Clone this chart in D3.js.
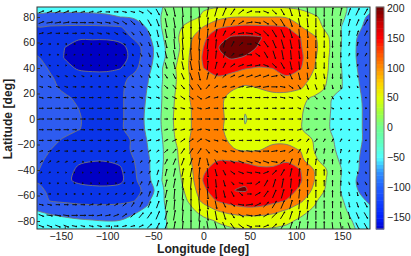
<!DOCTYPE html>
<html>
<head>
<meta charset="utf-8">
<script src="https://cdn.jsdelivr.net/npm/d3@7"></script>
<style>
html, body { margin: 0; padding: 0; background: #fff; }
svg { display: block; }
text { font-family: "Liberation Sans", sans-serif; fill: #222; }
</style>
</head>
<body>
<script>
// temperature grid
var gridLons = [-180,-165,-150,-135,-120,-105,-90,-75,-60,-45,-30,-15,0,15,30,45,60,75,90,105,120,135,150,165,180];
var gridLats = [88,80,72,64,56,48,40,32,24,16,8,0,-8,-16,-24,-32,-40,-48,-56,-64,-72,-80,-88];
var temperature = [
  [-45,-45,-45,-45,-45,-45,-45,-42,-35,-22,-5,10,17,18,18,18,18,18,16,12,5,-5,-15,-30,-45],
  [-70,-72,-72,-72,-70,-66,-60,-55,-48,-18,0,12,24,45,58,60,60,60,56,40,24,8,-15,-40,-68],
  [-102,-104,-105,-106,-106,-105,-102,-85,-55,-19,12,30,62,95,104,110,108,106,101,63,35,10,-22,-45,-80],
  [-110,-112,-118,-122,-122,-122,-120,-95,-68,-24,12,50,92,122,155,158,154,132,125,100,65,22,-22,-58,-85],
  [-112,-118,-125,-134,-135,-135,-130,-118,-80,-28,5,58,100,148,166,166,146,140,125,103,70,25,-24,-60,-88],
  [-97,-112,-126,-135,-137,-137,-133,-118,-78,-30,12,62,105,135,155,146,130,125,125,108,65,22,-26,-60,-85],
  [-92,-103,-118,-128,-130,-130,-126,-110,-72,-22,20,63,100,118,115,103,97,101,115,102,60,20,-22,-58,-82],
  [-85,-98,-108,-114,-116,-116,-112,-90,-62,-22,18,60,90,95,85,72,75,85,95,78,50,17,-20,-56,-78],
  [-82,-95,-104,-108,-110,-110,-106,-85,-58,-20,20,60,80,75,63,55,60,66,66,62,40,12,-20,-54,-75],
  [-76,-85,-96,-104,-108,-110,-105,-85,-55,-20,24,60,76,68,52,36,45,50,50,30,12,-16,-32,-52,-72],
  [-72,-80,-90,-100,-108,-110,-105,-85,-52,-19,26,58,75,68,50,22,38,45,40,24,6,-17,-34,-52,-70],
  [-70,-78,-88,-98,-108,-110,-105,-85,-50,-18,28,58,75,68,52,18,35,42,36,22,5,-18,-35,-52,-70],
  [-72,-80,-90,-99,-108,-110,-105,-85,-52,-19,26,58,75,68,50,22,38,45,40,22,5,-18,-35,-52,-70],
  [-78,-92,-103,-112,-116,-118,-112,-95,-56,-22,22,60,76,70,55,38,45,52,52,40,16,-14,-30,-50,-72],
  [-86,-100,-110,-116,-120,-120,-115,-94,-60,-24,14,60,82,76,63,55,58,68,68,58,18,-12,-28,-52,-76],
  [-96,-104,-115,-122,-124,-124,-120,-100,-65,-24,12,56,92,98,97,92,78,85,96,70,28,-4,-26,-54,-80],
  [-99,-106,-118,-128,-130,-130,-128,-105,-66,-22,8,50,95,115,122,118,112,108,112,100,58,15,-22,-55,-80],
  [-102,-110,-120,-130,-134,-134,-130,-108,-70,-20,5,42,103,130,145,145,135,125,125,104,60,12,-24,-60,-88],
  [-95,-104,-110,-115,-117,-118,-116,-112,-88,-24,3,32,92,122,149,153,130,118,116,92,50,8,-24,-56,-84],
  [-84,-102,-106,-108,-108,-108,-107,-102,-66,-24,0,24,72,103,118,125,122,112,98,68,26,-2,-18,-42,-68],
  [-60,-68,-76,-84,-88,-88,-85,-66,-52,-26,-4,12,32,60,75,85,85,72,55,30,14,-5,-16,-28,-48],
  [-40,-46,-50,-54,-57,-60,-58,-48,-38,-26,-8,6,12,22,30,33,33,32,26,14,5,-8,-10,-24,-32],
  [-30,-32,-34,-36,-38,-40,-38,-34,-30,-26,-12,0,6,10,14,16,16,14,10,6,0,-6,-12,-20,-26]
];
var levels = [-125,-100,-60,-20,20,60,100,150];
var bandColors = ["#0000c4","#0a35e8","#2e5cf0","#50ffff","#80ff80","#e0ff00","#ff8000","#ff0000","#700000"];

// wind arrows, one row per latitude from north to south
var windLons = d3.range(-175.5, 176, 9);
var windLats = d3.range(84, -85, -8.4);
var windU = [
  [6,6,6,6,6,5,5,5,5,5,5,5,5,5,4,3,2,1,0,1,2,3,4,5,6,6,6,6,5,4,3,2,1,0,0,1,2,3,4,4],
  [6,7,7,7,7,7,6,6,6,6,5,5,4,4,3,2,2,1,0,1,1,2,3,4,6,7,7,6,6,5,3,2,1,0,0,0,1,2,3,4],
  [5,5,5,5,5,5,5,5,4,4,4,3,3,3,2,2,1,1,0,1,1,2,3,5,7,8,7,6,5,4,3,1,1,0,0,0,0,1,2,3],
  [3,3,2,2,2,2,2,2,2,2,2,2,2,2,2,2,1,1,0,1,1,1,2,3,4,5,6,5,4,3,2,1,0,0,0,0,0,1,1,2],
  [2,2,2,1,1,1,1,1,1,1,1,1,2,2,2,2,2,1,1,0,1,1,2,3,5,6,5,4,3,2,1,1,0,0,0,0,0,1,1,2],
  [2,2,1,1,1,1,1,1,1,1,1,1,2,2,2,2,2,2,2,1,1,2,3,5,6,6,6,6,5,4,2,1,1,0,0,0,0,1,1,1],
  [3,3,3,3,3,3,2,2,2,2,2,2,2,2,3,3,3,3,3,2,2,3,4,5,6,7,7,7,7,5,3,2,1,1,1,0,0,1,1,1],
  [4,4,4,4,4,4,3,3,3,3,3,3,3,3,3,4,4,4,4,4,4,4,5,5,6,7,7,7,7,6,5,3,2,2,1,1,1,1,1,1],
  [5,5,5,5,5,5,5,4,4,4,4,4,4,4,4,4,5,5,5,5,5,5,5,5,5,6,6,6,6,6,5,4,3,3,2,2,2,1,1,1],
  [5,6,6,6,6,5,5,5,5,5,5,5,5,4,4,4,5,5,5,5,5,5,5,5,5,5,5,5,5,5,5,4,4,3,3,3,2,2,2,2],
  [6,6,6,6,6,6,6,6,5,5,5,5,5,5,4,4,4,5,5,6,6,6,6,6,5,5,5,5,5,5,5,4,4,4,3,3,3,3,2,2],
  [5,6,6,6,5,5,5,5,5,5,5,5,5,4,4,4,5,5,5,5,5,5,5,5,5,5,5,5,5,5,5,5,4,3,3,3,2,2,2,2],
  [5,5,5,5,5,5,4,4,4,4,4,4,4,4,4,4,5,5,5,5,5,5,5,5,5,6,6,6,6,6,5,4,3,3,2,2,2,1,1,1],
  [4,4,4,4,4,4,3,3,3,3,3,3,3,3,3,4,4,4,4,4,4,4,5,5,6,7,7,7,7,6,5,3,2,2,1,1,1,1,1,1],
  [3,3,3,3,3,2,2,2,2,2,2,2,2,2,3,3,3,3,3,2,2,3,4,5,6,7,7,7,7,5,3,2,1,1,1,0,0,1,1,1],
  [2,2,1,1,1,1,1,1,1,1,1,1,2,2,2,2,2,2,2,1,1,2,3,5,6,6,6,6,5,4,2,1,1,0,0,0,0,1,1,1],
  [2,2,2,1,1,1,1,1,1,1,1,1,2,2,2,2,2,1,1,0,1,1,2,3,5,6,5,4,3,2,1,1,0,0,0,0,0,1,1,2],
  [3,3,2,2,2,2,2,2,2,2,2,2,2,2,2,2,1,1,0,1,1,1,2,3,4,5,6,5,4,3,2,1,0,0,0,0,0,1,1,2],
  [5,5,5,5,5,5,5,5,4,4,4,3,3,3,3,2,1,1,0,1,1,2,3,5,7,8,7,6,5,4,3,1,1,0,0,0,0,1,2,3],
  [6,7,7,7,7,7,6,6,6,6,5,5,5,5,4,3,2,1,0,1,1,2,3,4,6,7,7,6,6,5,3,2,1,0,0,0,1,2,3,4],
  [6,6,6,6,6,5,5,5,5,5,5,5,5,5,4,3,2,1,0,1,2,3,4,5,6,6,6,6,5,4,3,2,1,0,0,1,2,3,4,4]
];
var windV = [
  [2,2,2,2,1,1,1,1,0,0,-1,-1,-2,-4,-6,-7,-9,-10,-11,-11,10,9,8,6,4,2,0,-2,-4,-6,-8,-9,-9,-9,-9,8,8,7,7,6],
  [2,1,1,1,0,0,0,-1,-1,-2,-3,-4,-5,-6,-7,-9,-10,-11,-11,-11,10,9,8,5,3,1,-1,-3,-5,-7,-8,-9,-9,-9,-8,-8,7,7,6,6],
  [1,1,0,0,0,0,-1,-1,-1,-2,-2,-3,-4,-5,-7,-9,-10,-11,-11,11,9,8,5,3,1,-1,-3,-5,-7,-8,-9,-9,-9,-8,-8,-7,-6,5,5,5],
  [1,0,0,0,0,0,0,0,-1,-1,-2,-2,-3,-4,-6,-8,-10,-11,-11,11,10,9,7,5,3,0,-3,-6,-8,-9,-9,-9,-8,-8,-7,-7,-5,4,4,4],
  [0,0,0,1,1,0,0,0,0,0,-1,-2,-3,-4,-5,-7,-9,-10,-11,11,10,8,6,3,1,0,-3,-6,-8,-9,-9,-8,-8,-7,-6,-6,-5,3,3,3],
  [-1,-1,-1,0,0,0,0,0,0,-1,-1,-2,-2,-3,-4,-6,-7,-8,-9,-10,9,7,5,3,2,1,1,-2,-4,-6,-8,-8,-7,-7,-6,-5,-5,2,2,2],
  [-2,-2,-1,-1,-1,-1,0,0,0,-1,-1,-1,-2,-3,-3,-4,-5,-6,-7,-8,7,5,3,2,2,2,2,2,1,-3,-6,-7,-7,-6,-5,-5,-5,-3,-2,-2],
  [-1,-1,-1,-1,0,0,0,0,0,0,-1,-1,-1,-1,-2,-3,-4,-4,-5,-5,4,2,1,1,1,1,1,1,0,-1,-3,-4,-5,-5,-5,-4,-4,-2,-2,-1],
  [-1,0,0,0,0,0,0,0,0,0,0,0,-1,-1,-1,-2,-2,-3,-3,-3,2,1,1,0,0,0,0,0,0,-1,-1,-2,-3,-3,-3,-3,-3,-1,-1,-1],
  [0,0,0,0,0,0,0,0,0,0,0,0,0,0,0,-1,-1,-1,-1,-1,1,0,0,0,0,0,0,0,0,0,0,-1,-1,-1,-1,-1,-1,0,0,0],
  [0,0,0,0,0,0,0,0,0,0,0,0,0,0,0,0,0,0,0,0,0,0,0,0,0,0,0,0,0,0,0,0,0,0,0,0,0,0,0,0],
  [0,0,0,0,0,0,0,0,0,0,0,0,0,0,1,1,1,1,1,1,-1,0,0,0,0,0,0,0,0,0,0,1,1,1,1,1,1,0,0,0],
  [0,0,0,0,0,0,0,0,0,0,0,1,1,1,1,2,2,3,3,3,-2,-1,-1,0,0,0,0,0,0,1,1,2,3,3,3,3,3,1,1,1],
  [1,1,1,0,0,0,0,0,0,1,1,1,1,2,2,3,4,5,5,5,-4,-2,-1,-1,-1,-1,-1,0,1,1,3,4,5,5,5,4,4,2,2,1],
  [2,2,1,1,1,0,0,0,0,1,1,1,2,3,3,5,6,7,7,8,-7,-5,-3,-2,-2,-2,-2,-2,-1,3,6,7,7,6,5,5,5,3,2,2],
  [1,1,1,0,0,0,0,0,0,1,1,2,2,3,5,7,8,8,9,10,-9,-7,-5,-3,-2,-1,-1,2,4,6,8,8,7,7,6,5,5,-2,-2,-2],
  [0,0,0,-1,-1,0,0,0,0,0,1,2,3,4,6,7,9,10,11,11,-10,-8,-6,-3,-1,0,3,6,8,9,9,8,8,7,6,6,5,-3,-3,-3],
  [-1,0,0,0,0,0,0,0,1,1,2,2,3,5,6,8,10,11,11,11,-10,-9,-7,-5,-3,0,3,6,8,9,9,9,8,8,7,7,5,-4,-4,-4],
  [-1,-1,0,0,0,0,1,1,1,2,3,4,5,6,7,9,10,11,11,-11,-9,-8,-5,-3,-1,1,3,5,7,8,9,9,9,8,8,7,6,-5,-5,-5],
  [-2,-1,-1,-1,0,0,0,1,1,2,3,4,5,6,8,9,10,11,11,11,-10,-9,-8,-5,-3,-1,1,3,5,7,8,9,9,9,8,8,-7,-7,-6,-6],
  [-2,-2,-2,-2,-1,-1,-1,-1,0,0,1,1,2,4,6,7,9,10,11,11,-10,-9,-8,-6,-4,-2,0,2,4,6,8,9,9,9,9,-8,-8,-7,-7,-6]
];

var lonTicks = [-150,-100,-50,0,50,100,150];
var latTicks = [-80,-60,-40,-20,0,20,40,60,80];
var barTicks = [-150,-100,-50,0,50,100,150,200];
var barStops = [-170,-150,-100,-75,-50,-25,0,25,50,75,100,125,150,175,200];
var barColors = ["#0000d0","#0020ff","#2060ff","#3090ff","#50ffff","#60ffc0","#70ff90","#a0ff40","#e0ff00","#ffd000","#ff9000","#ff5000","#ff0000","#c80000","#700000"];

var width = 411, height = 256;
var left = 37, right = 370, top_ = 7, bottom = 229;
var barLeft = 376, barRight = 384;

var x = d3.scaleLinear().domain([-180, 180]).range([left, right]);
var y = d3.scaleLinear().domain([-80, 80]).range([221, 17]);
var barY = d3.scaleLinear().domain([-170, 200]).range([bottom, top_ + 1]);
var barColor = d3.scaleLinear().domain(barStops).range(barColors);
var minus = function(d) { return String(d).replace("-", "\u2212"); };

var svg = d3.select("body").append("svg").attr("width", width).attr("height", height);
svg.append("clipPath").attr("id", "plot").append("rect")
    .attr("x", left).attr("y", top_).attr("width", right - left).attr("height", bottom - top_);

var plot = svg.append("g").attr("clip-path", "url(#plot)");
plot.append("rect")
    .attr("x", left).attr("y", top_).attr("width", right - left).attr("height", bottom - top_)
    .attr("fill", bandColors[0]);

// filled contours
var colIndex = d3.scaleLinear().domain([0.5, gridLons.length - 0.5]).range([gridLons[0], gridLons[gridLons.length - 1]]);
var rowIndex = d3.scaleLinear().domain([0.5, gridLats.length - 0.5]).range([gridLats[0], gridLats[gridLats.length - 1]]);
var contours = d3.contours().size([gridLons.length, gridLats.length]).thresholds(levels).smooth(true)(temperature.flat());
var ringLine = d3.line()
    .x(function(p) { return x(colIndex(p[0])); })
    .y(function(p) { return y(rowIndex(p[1])); })
    .curve(d3.curveCatmullRomClosed.alpha(0.5));

plot.selectAll("path.band").data(contours).enter().append("path")
    .attr("class", "band")
    .attr("d", function(c) {
      var d = "";
      c.coordinates.forEach(function(poly) {
        poly.forEach(function(ring) { d += ringLine(ring.slice(0, -1)); });
      });
      return d;
    })
    .attr("fill-rule", "evenodd")
    .attr("fill", function(c, i) { return bandColors[i + 1]; })
    .attr("stroke", "#777")
    .attr("stroke-width", 0.9);

// arrows
var arrows = [];
windV.forEach(function(row, r) {
  row.forEach(function(v, c) {
    arrows.push({lon: windLons[c], lat: windLats[r], u: windU[r][c] * 0.85, v: v});
  });
});
plot.selectAll("path.arrow").data(arrows).enter().append("path")
    .attr("class", "arrow")
    .attr("d", function(a) {
      var cx = x(a.lon), cy = y(a.lat);
      var x0 = cx - a.u / 2, y0 = cy + a.v / 2, x1 = cx + a.u / 2, y1 = cy - a.v / 2;
      var len = Math.sqrt(a.u * a.u + a.v * a.v) || 1;
      var ux = a.u / len, uy = -a.v / len, h = 1.1;
      return "M" + x0 + "," + y0 + "L" + x1 + "," + y1 +
        "M" + (x1 - ux * h - uy * h * 0.5) + "," + (y1 - uy * h + ux * h * 0.5) +
        "L" + x1 + "," + y1 +
        "L" + (x1 - ux * h + uy * h * 0.5) + "," + (y1 - uy * h - ux * h * 0.5);
    })
    .attr("fill", "none")
    .attr("stroke", "#111")
    .attr("stroke-width", 1);

// frame and axes
svg.append("rect")
    .attr("x", left).attr("y", top_).attr("width", right - left).attr("height", bottom - top_)
    .attr("fill", "none").attr("stroke", "#333").attr("stroke-width", 1);

var xAxis = svg.append("g").attr("transform", "translate(0," + bottom + ")")
    .call(d3.axisBottom(x).tickValues(lonTicks).tickSize(-3).tickPadding(4).tickFormat(minus));
var yAxis = svg.append("g").attr("transform", "translate(" + left + ",0)")
    .call(d3.axisLeft(y).tickValues(latTicks).tickSize(-3).tickPadding(2).tickFormat(minus));
[xAxis, yAxis].forEach(function(g) {
  g.select(".domain").remove();
  g.selectAll("text").attr("font-size", 10.5);
  g.selectAll("line").attr("stroke", "#333");
});
// the digits sit under the tick, the minus hangs out to the left
xAxis.selectAll("text").attr("dx", function(d) { return d < 0 ? -4 : 0; });

svg.append("text").attr("x", 203).attr("y", 253).attr("text-anchor", "middle")
    .attr("font-size", 12.2).attr("font-weight", "bold").text("Longitude [deg]");
svg.append("text").attr("transform", "translate(12,119) rotate(-90)").attr("text-anchor", "middle")
    .attr("font-size", 12.2).attr("font-weight", "bold").text("Latitude [deg]");

// colour bar
var barSteps = d3.range(-170, 200, 6);
svg.selectAll("rect.step").data(barSteps).enter().append("rect")
    .attr("class", "step")
    .attr("x", barLeft).attr("width", barRight - barLeft)
    .attr("y", function(d) { return barY(d + 6); })
    .attr("height", function(d) { return barY(d) - barY(d + 6) + 0.5; })
    .attr("fill", function(d) { return barColor(d + 3); });
svg.append("rect")
    .attr("x", barLeft).attr("y", top_).attr("width", barRight - barLeft).attr("height", bottom - top_)
    .attr("fill", "none").attr("stroke", "#777").attr("stroke-width", 1);
var barAxis = svg.append("g").attr("transform", "translate(" + barRight + ",0)")
    .call(d3.axisRight(barY).tickValues(barTicks).tickSize(0).tickPadding(3).tickFormat(minus));
barAxis.select(".domain").remove();
barAxis.selectAll("text").attr("font-size", 10.5);
</script>
</body>
</html>
